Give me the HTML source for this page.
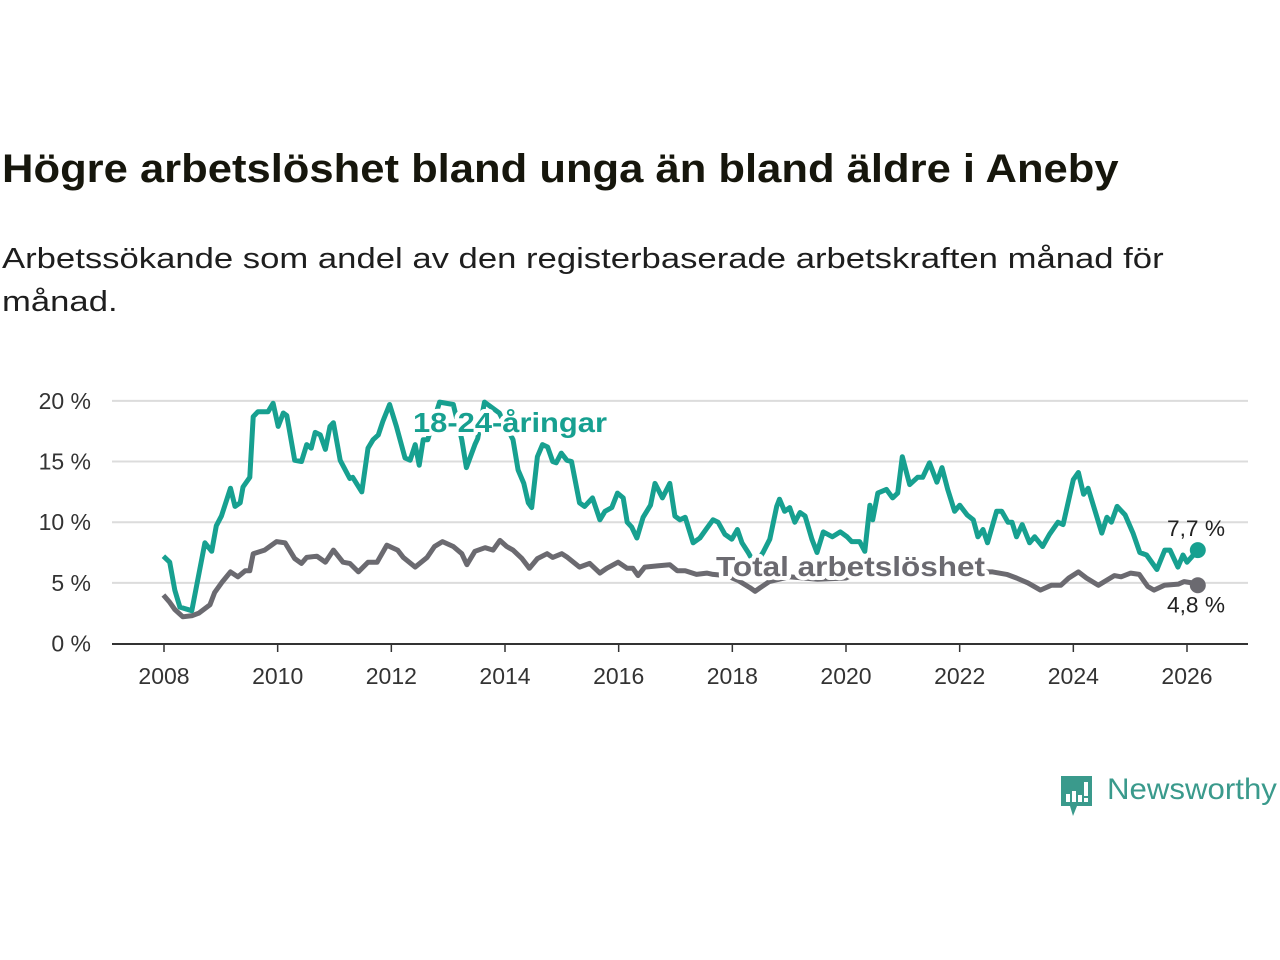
<!DOCTYPE html>
<html><head><meta charset="utf-8">
<style>
body{margin:0;background:#fff;width:1280px;height:960px;overflow:hidden;font-family:"Liberation Sans","DejaVu Sans",sans-serif;}
#title{position:absolute;left:2px;top:147px;font-size:40px;font-weight:bold;color:#16160c;margin:0;white-space:nowrap;transform:scaleX(1.089);transform-origin:0 0;}
#sub{position:absolute;left:2px;top:238px;font-size:29px;color:#1e1e1e;line-height:43px;margin:0;white-space:nowrap;transform:scaleX(1.195);transform-origin:0 0;}
svg{position:absolute;left:0;top:0;}
</style></head><body>
<h1 id="title">Högre arbetslöshet bland unga än bland äldre i Aneby</h1>
<p id="sub">Arbetssökande som andel av den registerbaserade arbetskraften månad för<br>månad.</p>
<svg id="chart" width="1280" height="960"></svg>
<script>
const yTicks=[0,5,10,15,20];
const yTickLabels=["0 %","5 %","10 %","15 %","20 %"];
const xTicks=[2008,2010,2012,2014,2016,2018,2020,2022,2024,2026];
const youthDates=[2007.99,2008.10,2008.19,2008.28,2008.49,2008.72,2008.84,2008.92,2009.01,2009.17,2009.25,2009.34,2009.39,2009.51,2009.57,2009.65,2009.83,2009.92,2010.01,2010.10,2010.16,2010.30,2010.42,2010.51,2010.59,2010.66,2010.75,2010.84,2010.92,2010.98,2011.10,2011.27,2011.32,2011.48,2011.59,2011.68,2011.77,2011.85,2011.97,2012.09,2012.24,2012.33,2012.42,2012.49,2012.56,2012.64,2012.85,2013.09,2013.24,2013.32,2013.47,2013.52,2013.64,2013.90,2014.14,2014.23,2014.33,2014.41,2014.47,2014.57,2014.66,2014.75,2014.84,2014.90,2014.99,2015.09,2015.17,2015.31,2015.40,2015.54,2015.67,2015.76,2015.88,2015.98,2016.08,2016.15,2016.23,2016.32,2016.43,2016.56,2016.64,2016.77,2016.90,2016.99,2017.08,2017.17,2017.31,2017.43,2017.55,2017.66,2017.75,2017.87,2017.99,2018.09,2018.17,2018.28,2018.40,2018.54,2018.66,2018.78,2018.83,2018.92,2019.01,2019.10,2019.19,2019.28,2019.40,2019.49,2019.60,2019.76,2019.90,2020.02,2020.10,2020.24,2020.33,2020.42,2020.47,2020.56,2020.71,2020.82,2020.91,2020.99,2021.12,2021.26,2021.35,2021.47,2021.60,2021.69,2021.79,2021.91,2022.00,2022.13,2022.24,2022.32,2022.41,2022.49,2022.65,2022.74,2022.85,2022.92,2023.00,2023.10,2023.23,2023.32,2023.46,2023.58,2023.73,2023.82,2024.00,2024.09,2024.18,2024.26,2024.50,2024.59,2024.67,2024.77,2024.91,2025.05,2025.17,2025.29,2025.47,2025.61,2025.70,2025.84,2025.93,2026.00,2026.19];
const youthValues=[7.2,6.7,4.4,3.0,2.7,8.3,7.6,9.7,10.5,12.8,11.3,11.6,12.9,13.7,18.7,19.1,19.1,19.8,17.9,19.0,18.8,15.1,15.0,16.4,16.1,17.4,17.2,16.0,17.9,18.2,15.1,13.6,13.7,12.5,16.1,16.8,17.2,18.3,19.7,17.9,15.3,15.1,16.4,14.7,16.8,16.8,19.9,19.7,16.8,14.5,16.4,16.9,19.9,19.0,16.8,14.3,13.2,11.6,11.2,15.4,16.4,16.2,15.0,14.9,15.7,15.1,15.0,11.6,11.3,12.0,10.2,10.9,11.2,12.4,12.0,10.0,9.6,8.7,10.4,11.4,13.2,12.0,13.2,10.5,10.2,10.4,8.3,8.7,9.5,10.2,10.0,9.0,8.6,9.4,8.3,7.5,6.5,7.5,8.6,11.3,11.9,10.9,11.2,10.0,10.8,10.5,8.6,7.5,9.2,8.8,9.2,8.8,8.4,8.4,7.6,11.4,10.2,12.4,12.7,12.0,12.4,15.4,13.1,13.7,13.7,14.9,13.3,14.5,12.7,10.9,11.4,10.6,10.2,8.8,9.4,8.3,10.9,10.9,10.0,10.0,8.8,9.8,8.3,8.8,8.0,9.0,10.0,9.8,13.5,14.1,12.3,12.8,9.1,10.4,10.0,11.3,10.6,9.1,7.5,7.3,6.1,7.7,7.7,6.3,7.3,6.7,7.7];
const totalDates=[2007.99,2008.10,2008.19,2008.33,2008.50,2008.61,2008.81,2008.89,2009.03,2009.17,2009.30,2009.43,2009.51,2009.57,2009.77,2009.98,2010.13,2010.30,2010.42,2010.51,2010.69,2010.84,2010.98,2011.15,2011.27,2011.42,2011.59,2011.75,2011.92,2012.11,2012.21,2012.42,2012.63,2012.76,2012.90,2013.09,2013.24,2013.33,2013.47,2013.65,2013.79,2013.91,2014.03,2014.14,2014.30,2014.43,2014.57,2014.74,2014.84,2015.00,2015.10,2015.31,2015.49,2015.67,2015.79,2015.99,2016.15,2016.25,2016.34,2016.46,2016.68,2016.90,2017.03,2017.17,2017.37,2017.55,2017.66,2017.90,2018.10,2018.31,2018.40,2018.49,2018.65,2019.00,2019.50,2020.00,2020.40,2020.80,2021.20,2021.60,2022.00,2022.38,2022.58,2022.83,2023.00,2023.20,2023.42,2023.61,2023.78,2023.92,2024.09,2024.23,2024.44,2024.72,2024.84,2025.01,2025.16,2025.31,2025.42,2025.60,2025.85,2025.95,2026.09,2026.19];
const totalValues=[4.0,3.4,2.8,2.2,2.3,2.5,3.2,4.2,5.1,5.9,5.5,6.0,6.0,7.4,7.7,8.4,8.3,7.0,6.6,7.1,7.2,6.7,7.7,6.7,6.6,5.9,6.7,6.7,8.1,7.7,7.1,6.3,7.1,8.0,8.4,8.0,7.4,6.5,7.6,7.9,7.7,8.5,8.0,7.7,7.0,6.2,7.0,7.4,7.1,7.4,7.1,6.3,6.6,5.8,6.2,6.7,6.2,6.2,5.6,6.3,6.4,6.5,6.0,6.0,5.7,5.8,5.7,5.6,5.2,4.6,4.3,4.6,5.1,5.5,5.3,5.4,6.3,6.6,6.5,6.3,6.0,5.9,5.9,5.7,5.4,5.0,4.4,4.8,4.8,5.4,5.9,5.4,4.8,5.6,5.5,5.8,5.7,4.7,4.4,4.8,4.9,5.1,5.0,4.8];

const svg=document.getElementById('chart');
const NS='http://www.w3.org/2000/svg';
const X=v=>164+(v-2008)*(1187-164)/18;
const Y=v=>643.5-v*12.13;
function mk(tag,attrs,parent){const e=document.createElementNS(NS,tag);for(const k in attrs)e.setAttribute(k,attrs[k]);(parent||svg).appendChild(e);return e;}
const TEAL='#17a090', GRAY='#6b6a70';

yTicks.forEach((t,i)=>{
  if(t>0){const g=mk('line',{x1:112,x2:1248,y1:Y(t),y2:Y(t),stroke:'#dcdcdc','stroke-width':2});
  
  }
  const l=mk('text',{x:91,y:Y(t)+8,'text-anchor':'end','font-size':23,fill:'#333'});
  l.textContent=yTickLabels[i];
  
  
});
xTicks.forEach(t=>{
  const tk=mk('line',{x1:X(t),x2:X(t),y1:644,y2:652,stroke:'#333','stroke-width':1.5});
  
  
  const l=mk('text',{x:X(t),y:684,'text-anchor':'middle','font-size':23,fill:'#333'});
  l.textContent=t;
  
  
});
const ax=mk('line',{x1:112,x2:1248,y1:644,y2:644,stroke:'#333','stroke-width':2});



function path(d,v){return d.map((x,i)=>(i?'L':'M')+X(x).toFixed(1)+','+Y(v[i]).toFixed(1)).join('');}
const pt=mk('path',{d:path(totalDates,totalValues),fill:'none',stroke:GRAY,'stroke-width':5,'stroke-linejoin':'round'});


const py=mk('path',{d:path(youthDates,youthValues),fill:'none',stroke:TEAL,'stroke-width':5,'stroke-linejoin':'round'});



const ly=mk('text',{x:413,y:432,'font-size':28,'font-weight':'bold',fill:TEAL,stroke:'#fff','stroke-width':8,'paint-order':'stroke','stroke-linejoin':'round',textLength:194,lengthAdjust:'spacingAndGlyphs'});
ly.textContent='18-24-åringar';


const lt=mk('text',{x:716,y:576,'font-size':28,'font-weight':'bold',fill:GRAY,stroke:'#fff','stroke-width':8,'paint-order':'stroke','stroke-linejoin':'round',textLength:269,lengthAdjust:'spacingAndGlyphs'});
lt.textContent='Total arbetslöshet';



const ny=youthDates.length-1, nt=totalDates.length-1;
const dy=mk('circle',{cx:X(youthDates[ny]),cy:Y(youthValues[ny]),r:8,fill:TEAL});


const dt=mk('circle',{cx:X(totalDates[nt]),cy:Y(totalValues[nt]),r:8,fill:GRAY});


const vy=mk('text',{x:1196,y:Y(youthValues[ny])-14,'text-anchor':'middle','font-size':22,fill:'#222',textLength:58,lengthAdjust:'spacingAndGlyphs'});
vy.textContent=youthValues[ny].toFixed(1).replace('.',',')+' %';


const vt=mk('text',{x:1196,y:Y(totalValues[nt])+27,'text-anchor':'middle','font-size':22,fill:'#222',textLength:58,lengthAdjust:'spacingAndGlyphs'});
vt.textContent=totalValues[nt].toFixed(1).replace('.',',')+' %';


</script>
<div style="position:absolute;left:1059px;top:774px;height:44px;">
<svg width="36" height="44" style="position:absolute;left:0;top:0">
<path d="M2 2 H33 V32 H18 L14 42 L11 32 H2 Z" fill="#3a9a8c"/>
<rect x="7" y="20" width="4" height="8" fill="#fff"/><rect x="13" y="17" width="4" height="11" fill="#fff"/><rect x="19" y="21" width="4" height="7" fill="#fff"/><rect x="25" y="8" width="4" height="14" fill="#fff"/><rect x="25" y="24" width="4" height="4" fill="#fff"/>
</svg>
<span style="position:absolute;left:48px;top:-1px;font-size:30px;color:#3a9a8c;white-space:nowrap;display:inline-block;transform:scaleX(1.04);transform-origin:0 0;">Newsworthy</span>
</div>
</body></html>
